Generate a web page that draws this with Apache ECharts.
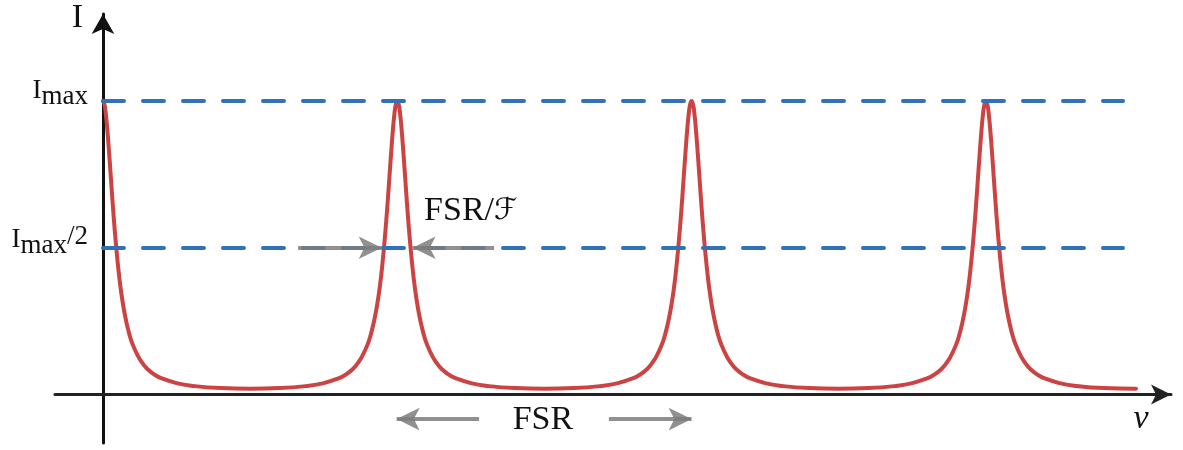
<!DOCTYPE html>
<html><head><meta charset="utf-8">
<script src="https://cdn.jsdelivr.net/npm/echarts@6/dist/echarts.min.js"></script>
<style>html,body{margin:0;padding:0;background:#fff}#c{width:1183px;height:450px}</style>
</head><body><div id="c"></div>
<script>
// frequency (in units of FSR) and intensity (in units of Imax)
const nu0 = [0,0.005,0.01,0.015,0.02,0.025,0.03,0.035,0.04,0.05,0.06,0.07,0.08,0.09,0.10,0.12,0.135,0.15,0.175,0.2,0.25,0.3,0.4,0.5];
const I0  = [1.000,0.988,0.953,0.900,0.835,0.765,0.693,0.624,0.560,0.450,0.362,0.296,0.245,0.204,0.173,0.129,0.106,0.088,0.068,0.055,0.039,0.030,0.022,0.020];
const nu1 = [0.6,0.7,0.75,0.8,0.825,0.85,0.865,0.88,0.90,0.91,0.92,0.93,0.94,0.95,0.96,0.965,0.97,0.975,0.98,0.985,0.99,0.995,1.0,1.005,1.01,1.015,1.02,1.025,1.03,1.035,1.04,1.05,1.06,1.07,1.08,1.09,1.10,1.12,1.135,1.15,1.175,1.2,1.25,1.3,1.4,1.5];
const I1  = [0.022,0.030,0.039,0.055,0.068,0.088,0.106,0.129,0.173,0.204,0.245,0.296,0.362,0.450,0.560,0.624,0.693,0.765,0.835,0.900,0.953,0.988,1.000,0.988,0.953,0.900,0.835,0.765,0.693,0.624,0.560,0.450,0.362,0.296,0.245,0.204,0.173,0.129,0.106,0.088,0.068,0.055,0.039,0.030,0.022,0.020];
const nu2 = [1.6,1.7,1.75,1.8,1.825,1.85,1.865,1.88,1.90,1.91,1.92,1.93,1.94,1.95,1.96,1.965,1.97,1.975,1.98,1.985,1.99,1.995,2.0,2.005,2.01,2.015,2.02,2.025,2.03,2.035,2.04,2.05,2.06,2.07,2.08,2.09,2.10,2.12,2.135,2.15,2.175,2.2,2.25,2.3,2.4,2.5];
const I2  = [0.022,0.030,0.039,0.055,0.068,0.088,0.106,0.129,0.173,0.204,0.245,0.296,0.362,0.450,0.560,0.624,0.693,0.765,0.835,0.900,0.953,0.988,1.000,0.988,0.953,0.900,0.835,0.765,0.693,0.624,0.560,0.450,0.362,0.296,0.245,0.204,0.173,0.129,0.106,0.088,0.068,0.055,0.039,0.030,0.022,0.020];
const nu3 = [2.6,2.7,2.75,2.8,2.825,2.85,2.865,2.88,2.90,2.91,2.92,2.93,2.94,2.95,2.96,2.965,2.97,2.975,2.98,2.985,2.99,2.995,3.0,3.005,3.01,3.015,3.02,3.025,3.03,3.035,3.04,3.05,3.06,3.07,3.08,3.09,3.10,3.12,3.135,3.15,3.175,3.2,3.25,3.3,3.4,3.51];
const I3  = [0.022,0.030,0.039,0.055,0.068,0.088,0.106,0.129,0.173,0.204,0.245,0.296,0.362,0.450,0.560,0.624,0.693,0.765,0.835,0.900,0.953,0.988,1.000,0.988,0.953,0.900,0.835,0.765,0.693,0.624,0.560,0.450,0.362,0.296,0.245,0.204,0.173,0.129,0.106,0.088,0.068,0.055,0.039,0.030,0.022,0.020];
// reference levels
const levelValues = [1, 0.5];
const levelLabels = ['{a|I}{b|max}', '{a2|I}{b2|max}{c2|/2}'];
const levelEnd = 3.466;
// annotations
const fwhmText = '{t|FSR/}{f|ℱ}';
const fsrText = 'FSR';
const nuText = 'ν';

const nuAll = nu0.concat(nu1, nu2, nu3);
const IAll = I0.concat(I1, I2, I3);
const curve = nuAll.map((v, i) => [v, IAll[i]]);

const serif = '"Liberation Serif","DejaVu Serif",serif';
const red = '#cb4343', blue = '#2f72b9', gray = 'rgba(125,125,125,0.85)';

const chart = echarts.init(document.getElementById('c'), null, {renderer: 'canvas'});
chart.setOption({
  animation: false,
  backgroundColor: '#fff',
  grid: {left: 55, right: 12, top: 14, bottom: 7, outerBoundsMode: 'none', containLabel: false},
  xAxis: {
    type: 'value', min: -0.163, max: 3.629,
    axisLine: {onZero: true, symbol: ['none', 'arrow'], symbolSize: [15, 20], lineStyle: {color: '#222', width: 3}},
    axisTick: {show: false}, axisLabel: {show: false}, splitLine: {show: false}
  },
  yAxis: {
    type: 'value', min: -0.165, max: 1.296,
    axisLine: {onZero: true, symbol: ['none', 'arrow'], symbolSize: [17, 20], lineStyle: {color: '#111', width: 3}},
    axisTick: {show: false}, axisLabel: {show: false}, splitLine: {show: false},
    name: 'I', nameLocation: 'end', nameGap: -21,
    nameTextStyle: {fontFamily: serif, fontSize: 34, color: '#111', align: 'right', verticalAlign: 'bottom', padding: [0, 20, 0, 0]}
  },
  series: [
    {
      type: 'line', data: [], z: 1, silent: true,
      markLine: {
        silent: true, symbol: ['none', 'none'],
        lineStyle: {color: blue, width: 4, type: [21, 19], cap: 'round'},
        label: {
          show: true, position: 'start', distance: 15, color: '#111', fontFamily: serif,
          rich: {
            a: {fontFamily: serif, fontSize: 27, lineHeight: 30, verticalAlign: 'top', color: '#111'},
            b: {fontFamily: serif, fontSize: 27, lineHeight: 30, verticalAlign: 'top', padding: [6, 0, 0, 0], color: '#111'},
            a2: {fontFamily: serif, fontSize: 27, lineHeight: 30, verticalAlign: 'top', padding: [3, 0, 0, 0], color: '#111'},
            b2: {fontFamily: serif, fontSize: 27, lineHeight: 30, verticalAlign: 'top', padding: [9, 0, 0, 0], color: '#111'},
            c2: {fontFamily: serif, fontSize: 27, lineHeight: 30, verticalAlign: 'top', color: '#111'}
          }
        },
        data: levelValues.map((v, i) => [
          {coord: [0, v], label: {formatter: levelLabels[i], padding: [0, 0, 18, 0]}},
          {coord: [levelEnd, v]}
        ])
      }
    },
    {
      type: 'line', data: curve, z: 2, symbol: 'none', smooth: 0.5,
      lineStyle: {color: red, width: 4, cap: 'round', join: 'round'}
    },
    {
      type: 'line', data: [], z: 3, silent: true,
      markLine: {
        silent: true, symbol: ['none', 'arrow'], symbolSize: [17, 23],
        lineStyle: {color: gray, width: 4, type: 'solid'},
        label: {show: false},
        data: [
          [{coord: [0.663, 0.5]}, {coord: [0.947, 0.5]}],
          [{coord: [1.329, 0.5]}, {coord: [1.052, 0.5]}],
          [{coord: [1.278, -0.0835]}, {coord: [0.998, -0.0835]}],
          [{coord: [1.719, -0.0835]}, {coord: [2.0, -0.0835]}]
        ]
      },
      markPoint: {
        silent: true, symbol: 'circle', symbolSize: 0,
        label: {show: true, position: 'inside', color: '#111', fontFamily: serif, fontSize: 34,
          rich: {
            t: {fontFamily: serif, fontSize: 34, color: '#111'},
            f: {fontFamily: '"DejaVu Sans",sans-serif', fontStyle: 'italic', fontSize: 30, color: '#111'}
          }
        },
        data: [
          {coord: [1.25, 0.625], label: {formatter: fwhmText}},
          {coord: [1.495, -0.087], label: {formatter: fsrText}},
          {coord: [3.527, -0.085], label: {formatter: nuText, fontStyle: 'italic'}}
        ]
      }
    }
  ]
});
</script></body></html>
